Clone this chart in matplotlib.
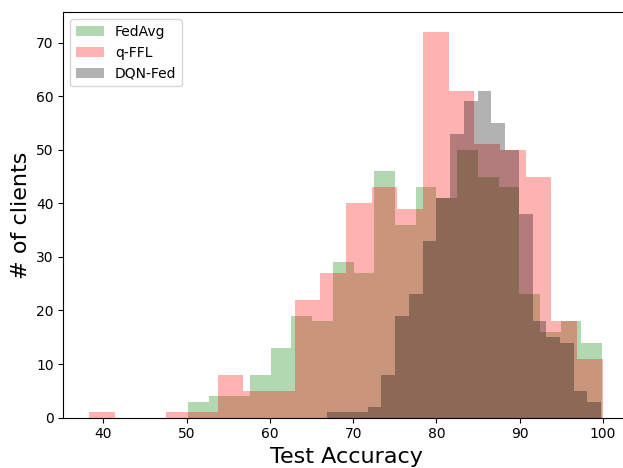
import matplotlib
matplotlib.use("Agg")
import matplotlib.pyplot as plt
import numpy as np

# histogram counts per bin (20 bins each, 500 clients per method)
fedavg_counts = [3, 4, 4, 8, 13, 19, 18, 29, 27, 46, 36, 43, 41, 50, 45, 43, 23, 16, 18, 14]
qffl_counts = [1, 0, 0, 1, 1, 8, 5, 5, 22, 27, 40, 43, 39, 72, 61, 51, 50, 45, 18, 11]
dqnfed_counts = [1, 1, 1, 2, 8, 19, 23, 33, 41, 53, 59, 61, 55, 50, 38, 18, 15, 14, 5, 3]

# min / max test accuracy of each method (bins span this range)
fedavg_range = (50.15, 99.9)
qffl_range = (38.28, 100.0)
dqnfed_range = (66.8, 99.8)

labels = ["FedAvg", "q-FFL", "DQN-Fed"]
colors = ["g", "r", "k"]

fig = plt.figure(figsize=(6.23, 4.68), dpi=100)
ax = fig.add_axes([0.1019, 0.1075, 0.907, 0.8658])

series = [(fedavg_counts, fedavg_range), (qffl_counts, qffl_range), (dqnfed_counts, dqnfed_range)]
for (counts, (lo, hi)), label, color in zip(series, labels, colors):
    edges = np.linspace(lo, hi, len(counts) + 1)
    ax.hist(edges[:-1], bins=edges, weights=counts, color=color, alpha=0.3, label=label)

ax.set_xlabel("Test Accuracy", fontsize=16)
ax.set_ylabel("# of clients", fontsize=16)
ax.legend(loc="upper left")

fig.savefig("out.png", dpi=100)
